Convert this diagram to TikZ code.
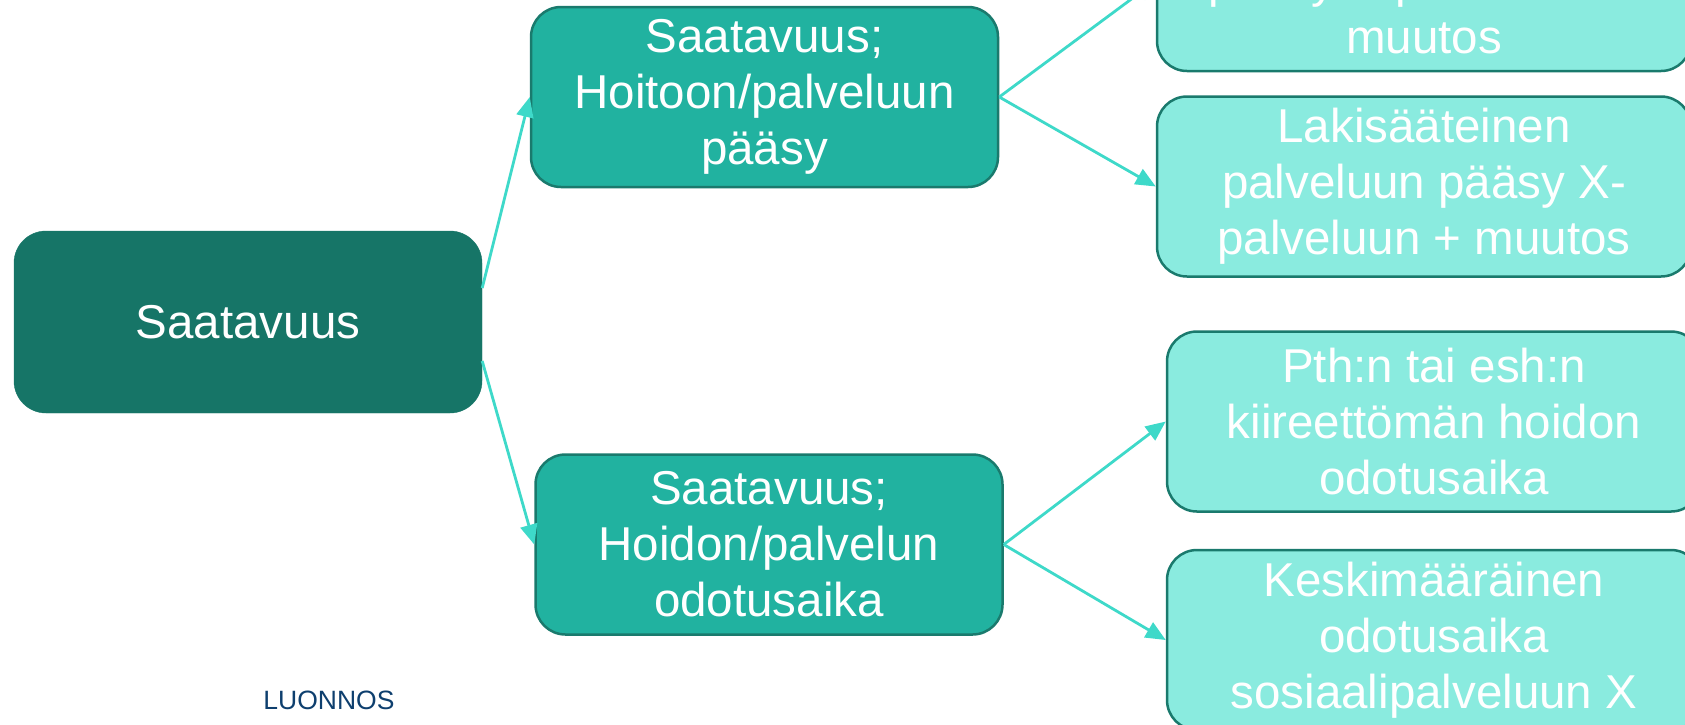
\documentclass[tikz,border=0pt]{standalone}
\usepackage{fontspec}
\setmainfont{Liberation Sans}
\usetikzlibrary{arrows.meta}
\definecolor{darkteal}{HTML}{167567}
\definecolor{midteal}{HTML}{21B2A0}
\definecolor{lightteal}{HTML}{8AEBDF}
\definecolor{edgeteal}{HTML}{1A7A6D}
\definecolor{arrowteal}{HTML}{3ED9C9}
\definecolor{draftblue}{HTML}{0E3F6E}
\tikzset{
  boxtext/.style={font=\fontsize{47.5}{56}\selectfont, text=white, align=center, inner sep=0pt},
  rootbox/.style={boxtext, fill=darkteal, draw=darkteal, rounded corners=32pt, minimum width=468pt, minimum height=182pt},
  midbox/.style={boxtext, fill=midteal, draw=edgeteal, line width=2.5pt, rounded corners=30pt, minimum width=467pt, minimum height=180pt},
  leafbox/.style={boxtext, fill=lightteal, draw=edgeteal, line width=2.5pt, rounded corners=30pt, minimum width=534pt, minimum height=180pt},
  conn/.style={draw=arrowteal, line width=2.8pt, -{Triangle[length=20pt,width=17pt]}}
}
\begin{document}
\begin{tikzpicture}[x=1pt,y=-1pt]
\useasboundingbox (0,0) rectangle (1685,724);
\clip (0,0) rectangle (1685,724);
\node[rootbox] (L) at (248,322) {Saatavuus};
\node[midbox] (M1) at (764.5,97) {Saatavuus;\\Hoitoon/palveluun\\pääsy};
\node[midbox] (M2) at (769,544.5) {Saatavuus;\\Hoidon/palvelun\\odotusaika};
\node[leafbox] (R1) at (1424,-19) {Lakisääteinen hoitoon\\pääsy X-palveluun +\\muutos};
\node[leafbox] (R2) at (1424,186.5) {Lakisääteinen\\palveluun pääsy X-\\palveluun + muutos};
\node[leafbox] (R3) at (1434,421.5) {Pth:n tai esh:n\\kiireettömän hoidon\\odotusaika};
\node[leafbox] (R4) at (1434,640) {Keskimääräinen\\odotusaika\\sosiaalipalveluun X};
\node[font=\fontsize{26.5}{30}\selectfont, text=draftblue, inner sep=0pt] (D) at (329,700) {LUONNOS};
\coordinate (Lup) at ([yshift=34pt]L.east);
\coordinate (Ldn) at ([yshift=-39pt]L.east);
\draw[conn] (Lup) -- (M1.west);
\draw[conn] (Ldn) -- (M2.west);
\draw[conn] (M1.east) -- (R1.west);
\draw[conn] (M1.east) -- (R2.west);
\draw[conn] (M2.east) -- (R3.west);
\draw[conn] (M2.east) -- (R4.west);
\end{tikzpicture}
\end{document}
